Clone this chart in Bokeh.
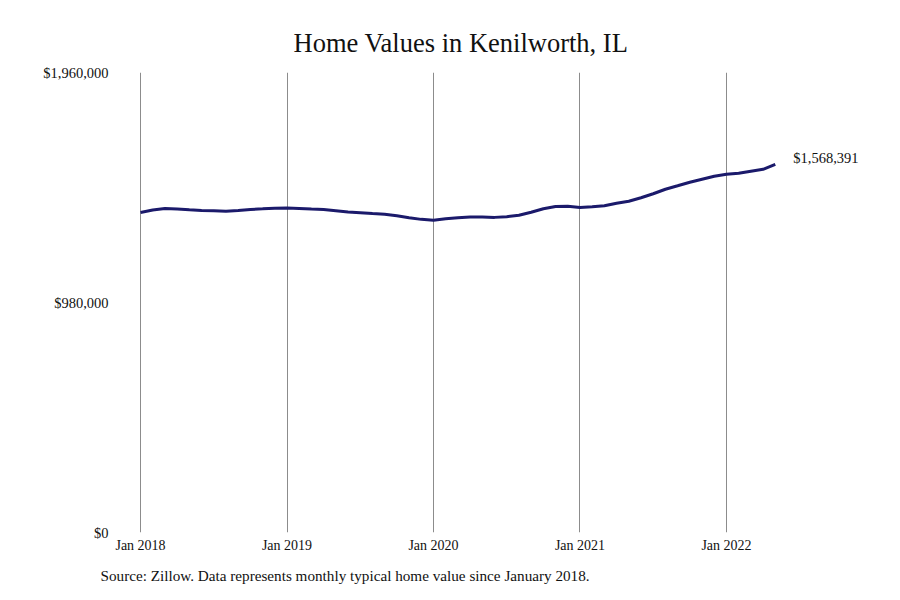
import numpy as np
import pandas as pd
from bokeh.core.properties import value
from bokeh.embed import file_html
from bokeh.models import ColumnDataSource, FixedTicker, NumeralTickFormatter, Range1d, Title
from bokeh.plotting import figure
from bokeh.resources import INLINE

# Typical home value by month, Jan 2018 - May 2022
VALUES = [
    1363500, 1374100, 1380100, 1378400, 1375000, 1372400,
    1370700, 1369000, 1372000, 1376700, 1379200, 1381800,
    1383000, 1380900, 1378400, 1376200, 1371100, 1366000,
    1362600, 1359200, 1356300, 1349900, 1341400, 1334200,
    1330800, 1337100, 1341400, 1344800, 1343900, 1342700,
    1345600, 1352000, 1364800, 1379600, 1389400, 1390300,
    1384700, 1388100, 1392400, 1403000, 1411500, 1426400,
    1443400, 1462600, 1477400, 1492300, 1505100, 1517800,
    1526300, 1530600, 1539100, 1547600, 1568391,
]
MONTHS = pd.date_range(start="2018-01-01", periods=len(VALUES), freq="MS")
TICK_LABELS = ["Jan 2018", "Jan 2019", "Jan 2020", "Jan 2021", "Jan 2022"]
Y_TICKS = [0, 980000, 1960000]

FONT = "Liberation Serif"
LINE_COLOR = "#1b1a6b"

x = np.arange(len(VALUES))
source = ColumnDataSource(data=dict(x=x, value=VALUES, month=MONTHS))

tick_pos = [i for i, m in enumerate(MONTHS) if m.month == 1 and m.strftime("Jan %Y") in TICK_LABELS]

p = figure(width=884, height=592, output_backend="svg", toolbar_location=None,
           x_range=Range1d(-2.05, 59.8), y_range=Range1d(0, 1960000),
           min_border_left=115, min_border_right=14, min_border_top=72, min_border_bottom=60,
           outline_line_color=None, background_fill_color="white")

p.add_layout(Title(text="Home Values in Kenilworth, IL", align="left", offset=178,
                   text_font=FONT, text_font_size="26.5px", text_font_style="normal",
                   text_color="#111111", standoff=30), "above")
p.add_layout(Title(text="Source: Zillow. Data represents monthly typical home value since January 2018.",
                   align="left", offset=-15, text_font=FONT, text_font_size="15.2px",
                   text_font_style="normal", text_color="#111111", standoff=18), "below")

p.line("x", "value", source=source, line_color=LINE_COLOR, line_width=3)

last = len(VALUES) - 1
p.text([x[last]], [VALUES[last]], text=[f"${VALUES[last]:,}"], x_offset=18, y_offset=-6,
       text_font=value(FONT), text_font_size="14.5px", text_color="#111111",
       text_baseline="middle", text_align="left")

p.xaxis.ticker = FixedTicker(ticks=tick_pos)
p.xaxis.major_label_overrides = {t: lab for t, lab in zip(tick_pos, TICK_LABELS)}
p.yaxis.ticker = FixedTicker(ticks=Y_TICKS)
p.yaxis.formatter = NumeralTickFormatter(format="$0,0")

for ax in (p.xaxis, p.yaxis):
    ax.axis_line_color = None
    ax.major_tick_line_color = None
    ax.minor_tick_line_color = None
    ax.major_tick_out = 0
    ax.major_tick_in = 0
    ax.minor_tick_out = 0
    ax.major_label_text_font = FONT
    ax.major_label_text_color = "#111111"
p.xaxis.major_label_text_font_size = "14px"
p.yaxis.major_label_text_font_size = "14.5px"
p.xaxis.major_label_standoff = 5
p.yaxis.major_label_standoff = 7

p.ygrid.visible = False
p.xgrid.ticker = FixedTicker(ticks=tick_pos)
p.xgrid.grid_line_color = "#8c8c8c"
p.xgrid.grid_line_width = 1

open("out.html", "w").write(file_html(p, INLINE))
